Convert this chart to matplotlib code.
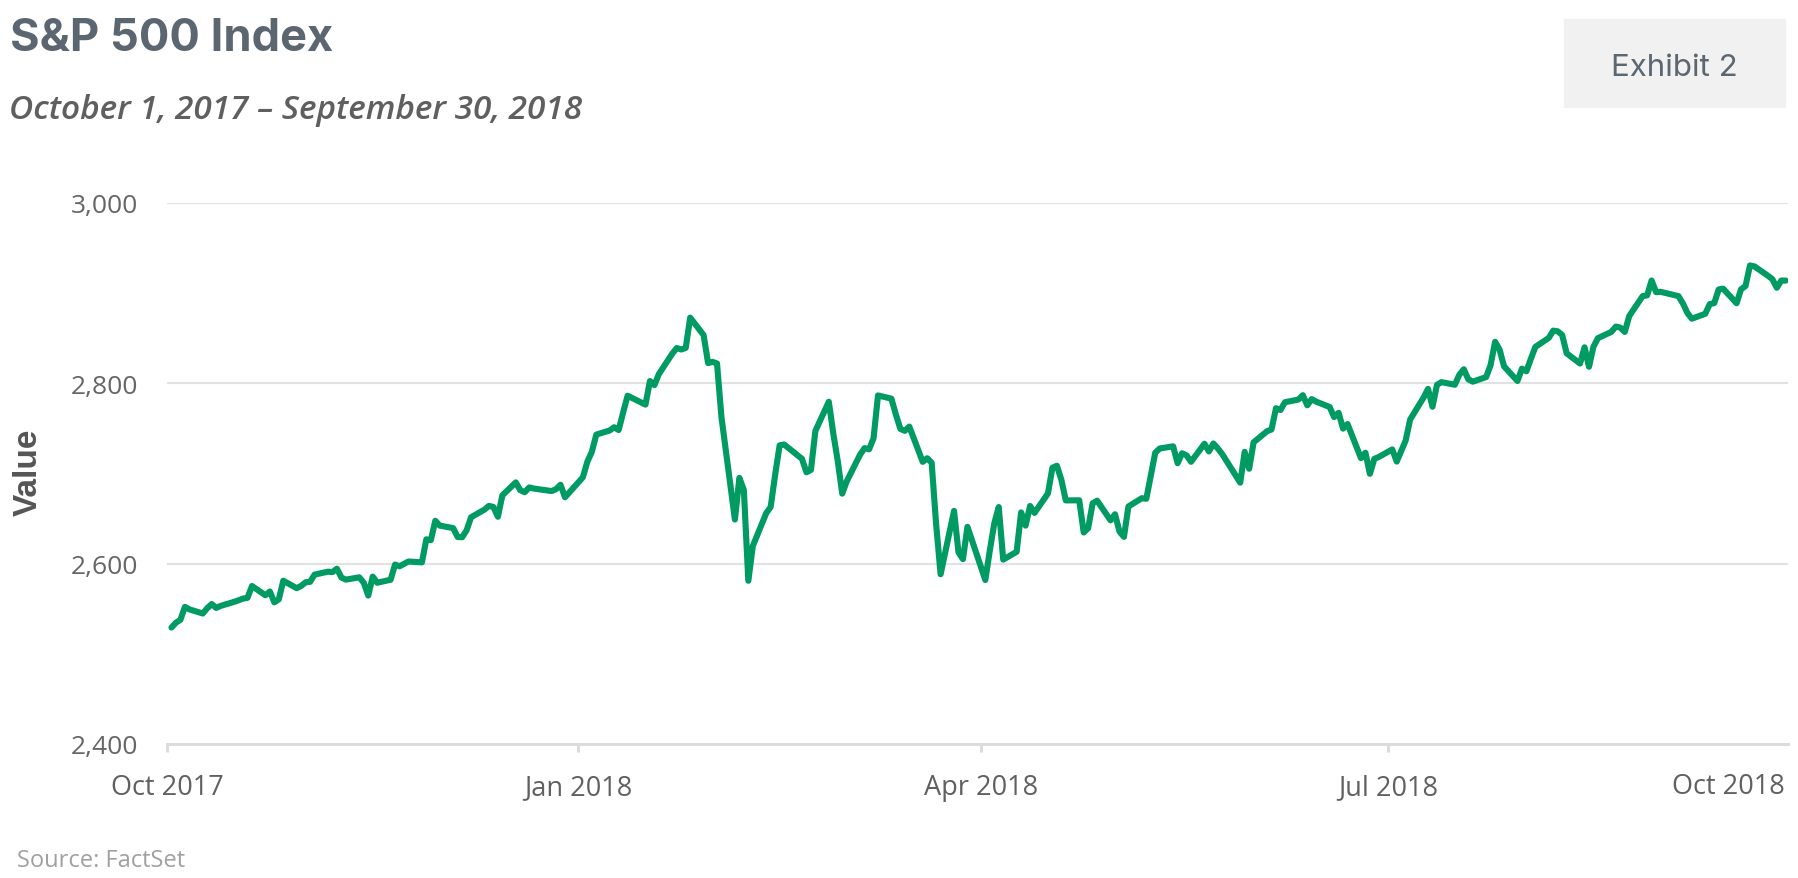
import pandas as pd
import matplotlib.pyplot as plt
import matplotlib as mpl

mpl.rcParams['font.family'] = 'Open Sans'

#
# S&P 500 daily closes, Oct 2017 - Sep 2018
#

close_2017_10 = [2529.12, 2534.58, 2537.74, 2552.07, 2549.33, 2544.73, 2550.64, 2555.24,
                 2550.93, 2553.17, 2557.64, 2559.36, 2561.26, 2562.10, 2575.21, 2564.98,
                 2569.13, 2557.15, 2560.40, 2581.07, 2572.83, 2575.26]
close_2017_11 = [2579.36, 2579.85, 2587.84, 2591.13, 2590.64, 2594.38, 2584.62, 2582.30,
                 2584.84, 2578.87, 2564.62, 2585.64, 2578.85, 2582.14, 2599.03, 2597.08,
                 2602.42, 2601.42, 2627.04, 2626.07, 2647.58]
close_2017_12 = [2642.22, 2639.44, 2629.57, 2629.27, 2636.98, 2651.50, 2659.99, 2664.11,
                 2662.85, 2652.01, 2675.81, 2690.16, 2681.47, 2679.25, 2684.57, 2683.34,
                 2680.50, 2682.62, 2687.54, 2673.61]
close_2018_01 = [2695.81, 2713.06, 2723.99, 2743.15, 2747.71, 2751.29, 2748.23, 2767.56,
                 2786.24, 2776.42, 2802.56, 2798.03, 2810.30, 2832.97, 2839.13, 2837.54,
                 2839.25, 2872.87, 2853.53, 2822.43, 2823.81]
close_2018_02 = [2821.98, 2762.13, 2648.94, 2695.14, 2681.66, 2581.00, 2619.55, 2656.00,
                 2662.94, 2698.63, 2731.20, 2732.22, 2716.26, 2701.33, 2703.96, 2747.30,
                 2779.60, 2744.28, 2713.83]
close_2018_03 = [2677.67, 2691.25, 2720.94, 2728.12, 2726.80, 2738.97, 2786.57, 2783.02,
                 2765.31, 2749.48, 2747.33, 2752.01, 2712.92, 2716.94, 2711.93, 2643.69,
                 2588.26, 2658.55, 2612.62, 2605.00, 2640.87]
close_2018_04 = [2581.88, 2614.45, 2644.69, 2662.84, 2604.47, 2613.16, 2656.87, 2642.19,
                 2663.99, 2656.30, 2677.84, 2706.39, 2708.64, 2693.13, 2670.14, 2670.29,
                 2634.56, 2639.40, 2666.94, 2669.91, 2648.05]
close_2018_05 = [2654.80, 2635.67, 2629.73, 2663.42, 2672.63, 2671.92, 2697.79, 2723.07,
                 2727.72, 2730.13, 2711.45, 2722.46, 2720.13, 2712.97, 2733.01, 2724.44,
                 2733.29, 2727.76, 2721.33, 2689.86, 2724.01, 2705.27]
close_2018_06 = [2734.62, 2746.87, 2748.80, 2772.35, 2770.37, 2779.03, 2782.00, 2786.85,
                 2775.63, 2782.49, 2779.66, 2773.75, 2762.59, 2767.32, 2749.76, 2754.88,
                 2717.07, 2723.06, 2699.63, 2716.31, 2718.37]
close_2018_07 = [2726.71, 2713.22, 2736.61, 2759.82, 2784.17, 2793.84, 2774.02, 2798.29,
                 2801.31, 2798.43, 2809.55, 2815.62, 2804.49, 2801.83, 2806.98, 2820.40,
                 2846.07, 2837.44, 2818.82, 2802.60, 2816.29]
close_2018_08 = [2813.36, 2827.22, 2840.35, 2850.40, 2858.45, 2857.70, 2853.58, 2833.28,
                 2821.93, 2839.96, 2818.37, 2840.69, 2850.13, 2857.05, 2862.96, 2861.82,
                 2856.98, 2874.69, 2896.74, 2897.52, 2914.04, 2901.13, 2901.52]
close_2018_09 = [2896.72, 2888.60, 2878.05, 2871.68, 2877.13, 2887.89, 2888.92, 2904.18,
                 2904.98, 2888.80, 2904.31, 2907.95, 2930.75, 2929.67, 2919.37, 2915.56,
                 2905.97, 2914.00, 2913.98]

market_holidays = ['2017-11-23', '2017-12-25', '2018-01-01', '2018-01-15', '2018-02-19',
                   '2018-03-30', '2018-05-28', '2018-07-04', '2018-09-03']
tick_dates = ['2017-10-01', '2018-01-01', '2018-04-01', '2018-07-01']
tick_labels = ['Oct 2017', 'Jan 2018', 'Apr 2018', 'Jul 2018']
last_label = 'Oct 2018'
y_ticks = [2400, 2600, 2800, 3000]

closes = (close_2017_10 + close_2017_11 + close_2017_12 + close_2018_01 + close_2018_02
          + close_2018_03 + close_2018_04 + close_2018_05 + close_2018_06 + close_2018_07
          + close_2018_08 + close_2018_09)
dates = pd.bdate_range('2017-10-02', '2018-09-28', freq='C', holidays=market_holidays)

W, H = 1799, 879
fig = plt.figure(figsize=(W / 100, H / 100), dpi=100)


def fx(px):
    return px / W


def fy(px):
    return 1 - px / H


ax = fig.add_axes([fx(167), fy(745), fx(1788 - 167), (745 - 204) / H])
ax.plot(dates, closes, color='#009a63', lw=4.4, solid_joinstyle='round',
        solid_capstyle='round', zorder=3)

ax.set_xlim(pd.Timestamp('2017-10-01'), pd.Timestamp('2018-09-28 12:00'))
ax.set_ylim(2400, 3000)
ax.set_yticks(y_ticks)
ax.set_yticklabels(['{:,}'.format(v) for v in y_ticks])
ax.set_xticks(pd.to_datetime(tick_dates))
ax.set_xticklabels(tick_labels)

ax.grid(axis='y', color='#e2e2e2', lw=1.5, zorder=0)
for side in ['top', 'right', 'left']:
    ax.spines[side].set_visible(False)
ax.spines['bottom'].set_color('#dcdcdc')
ax.spines['bottom'].set_linewidth(2.2)
ax.tick_params(axis='y', length=0, pad=21, labelsize=19, labelcolor='#666666')
ax.tick_params(axis='x', length=6, width=2.2, color='#dcdcdc', pad=15,
               labelsize=19.5, labelcolor='#606060')

fig.text(fx(1785), fy(794), last_label, ha='right', va='baseline',
         fontsize=19.5, color='#606060')

ax.set_ylabel('Value', family='Liberation Sans', fontweight='bold',
              fontsize=24, color='#555555')
ax.yaxis.set_label_coords((44 - 167) / (1788 - 167), (745 - 472) / (745 - 204))

# headers
fig.text(fx(10), fy(51), 'S&P 500 Index', ha='left', va='baseline',
         family='Inter', fontweight='bold', fontsize=32.5, color='#5b6670')
fig.text(fx(9), fy(119), 'October 1, 2017 \u2013 September 30, 2018', ha='left',
         va='baseline', style='italic', fontweight='semibold', fontsize=24,
         color='#5f5f5f')

box = plt.Rectangle((fx(1564), fy(108)), fx(1785 - 1564), (108 - 20) / H,
                    transform=fig.transFigure, color='#f1f1f1', zorder=0)
fig.patches.append(box)
fig.text(fx(1674.5), fy(76), 'Exhibit 2', ha='center', va='baseline',
         family='Inter', fontsize=22.5, color='#5b6670')

fig.text(fx(17), fy(867), 'Source: FactSet', ha='left', va='baseline',
         fontsize=17, color='#a0a0a0')

fig.savefig('out.png', dpi=100)
